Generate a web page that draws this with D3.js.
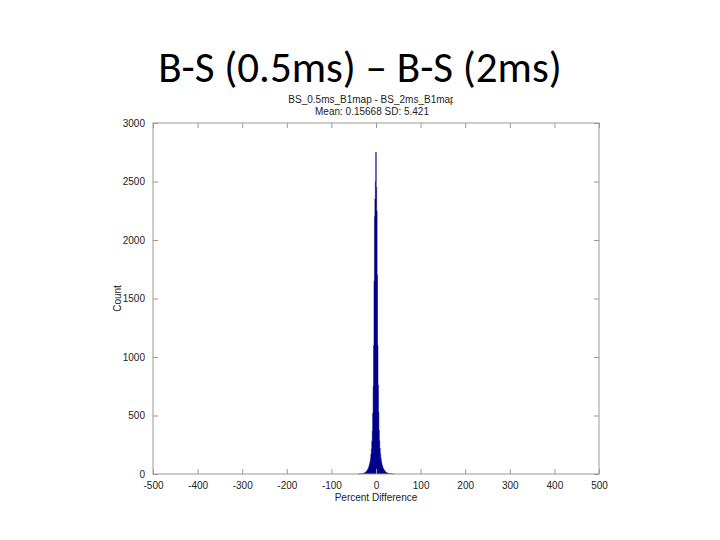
<!DOCTYPE html>
<html>
<head>
  <meta charset="utf-8">
  <title></title>
  <style>
    body { margin: 0; background: #fff; }
    text { font-family: "Liberation Sans", Arial, sans-serif; }
  </style>
</head>
<body>
  <svg width="720" height="540"></svg>

  <script src="https://d3js.org/d3.v7.min.js"></script>
  <script>

  // histogram bins (bin centre in percent, width 1) and counts
  var binCenters = d3.range(-40, 41);
  var countsLeft = [   // -40 .. -1
    1, 1, 1, 1, 2, 2, 2, 3, 3, 4,
    4, 5, 6, 7, 9, 11, 13, 16, 20, 24,
    29, 35, 42, 50, 61, 74, 90, 110, 135, 170,
    215, 280, 370, 520, 750, 1100, 1650, 2200, 2350, 2500
  ];
  var countCentre = 2750;   // 0
  var countsRight = [  // 1 .. 40
    2450, 2250, 1700, 1100, 760, 530, 375, 285, 220, 172,
    138, 112, 92, 76, 62, 51, 43, 36, 30, 25,
    21, 17, 14, 11, 9, 8, 7, 6, 5, 4,
    3, 3, 3, 2, 2, 2, 1, 1, 1, 1
  ];
  var counts = countsLeft.concat([countCentre], countsRight);

  var xTicks = [-500, -400, -300, -200, -100, 0, 100, 200, 300, 400, 500];
  var yTicks = [0, 500, 1000, 1500, 2000, 2500, 3000];

  var slideTitle = "B-S (0.5ms) \u2013 B-S (2ms)";
  var plotTitle = ["BS_0.5ms_B1map - BS_2ms_B1map", "Mean: 0.15668 SD: 5.421"];

  var svg = d3.select("svg");

  var pLeft = 153, pRight = 599, pTop = 123, pBottom = 474;

  var x = d3.scaleLinear().domain([-500, 500]).range([pLeft, pRight]);
  var y = d3.scaleLinear().domain([0, 3000]).range([pBottom, pTop]);

  // slide title
  svg.append("text")
      .attr("x", 360)
      .attr("y", 82)
      .attr("text-anchor", "middle")
      .style("font-family", "Carlito, 'Open Sans', sans-serif")
      .style("font-size", "43px")
      .attr("fill", "#000")
      .text(slideTitle);

  // figure title, cut off on the right like the pasted image
  svg.append("clipPath").attr("id", "cut")
    .append("rect").attr("x", 0).attr("y", 88).attr("width", 453).attr("height", 30);

  svg.append("g").attr("clip-path", "url(#cut)")
    .selectAll("text")
    .data(plotTitle)
    .enter().append("text")
      .attr("x", 372)
      .attr("y", function(d, i) { return 103 + i * 12; })
      .attr("text-anchor", "middle")
      .style("font-size", "10px")
      .attr("fill", "#222")
      .text(function(d) { return d; });

  // histogram bars as a stepped filled path
  var step = [];
  binCenters.forEach(function(c, i) {
    step.push([c - 0.5, counts[i]]);
    step.push([c + 0.5, counts[i]]);
  });
  step.unshift([binCenters[0] - 0.5, 0]);
  step.push([binCenters[binCenters.length - 1] + 0.5, 0]);

  svg.append("path")
      .datum(step)
      .attr("fill", "#00008c")
      .attr("stroke", "#000070")
      .attr("stroke-width", 0.5)
      .attr("d", d3.line()
          .x(function(d) { return x(d[0]); })
          .y(function(d) { return y(d[1]); }));

  // axes box
  svg.append("rect")
      .attr("x", pLeft).attr("y", pTop)
      .attr("width", pRight - pLeft).attr("height", pBottom - pTop)
      .attr("fill", "none")
      .attr("stroke", "#999")
      .attr("stroke-width", 1);

  svg.append("g")
      .attr("transform", "translate(0," + pBottom + ")")
      .call(d3.axisBottom(x).tickValues(xTicks).tickSize(-5).tickPadding(8)
          .tickFormat(function(d) { return String(d); }));
  svg.append("g")
      .attr("transform", "translate(0," + pTop + ")")
      .call(d3.axisTop(x).tickValues(xTicks).tickSize(-5).tickFormat(""));
  svg.append("g")
      .attr("transform", "translate(" + pLeft + ",0)")
      .call(d3.axisLeft(y).tickValues(yTicks).tickSize(-5).tickPadding(8)
          .tickFormat(function(d) { return String(d); }));
  svg.append("g")
      .attr("transform", "translate(" + pRight + ",0)")
      .call(d3.axisRight(y).tickValues(yTicks).tickSize(-5).tickFormat(""));

  svg.selectAll(".domain").remove();
  svg.selectAll(".tick line").attr("stroke", "#999");
  svg.selectAll(".tick text")
      .style("font-family", "'Liberation Sans', Arial, sans-serif")
      .style("font-size", "10px")
      .attr("fill", "#222");

  svg.append("text")
      .attr("x", (pLeft + pRight) / 2)
      .attr("y", 501)
      .attr("text-anchor", "middle")
      .style("font-size", "10px")
      .attr("fill", "#222")
      .text("Percent Difference");

  svg.append("text")
      .attr("transform", "translate(121," + ((pTop + pBottom) / 2) + ") rotate(-90)")
      .attr("text-anchor", "middle")
      .style("font-size", "10px")
      .attr("fill", "#222")
      .text("Count");

  </script>
</body>
</html>
